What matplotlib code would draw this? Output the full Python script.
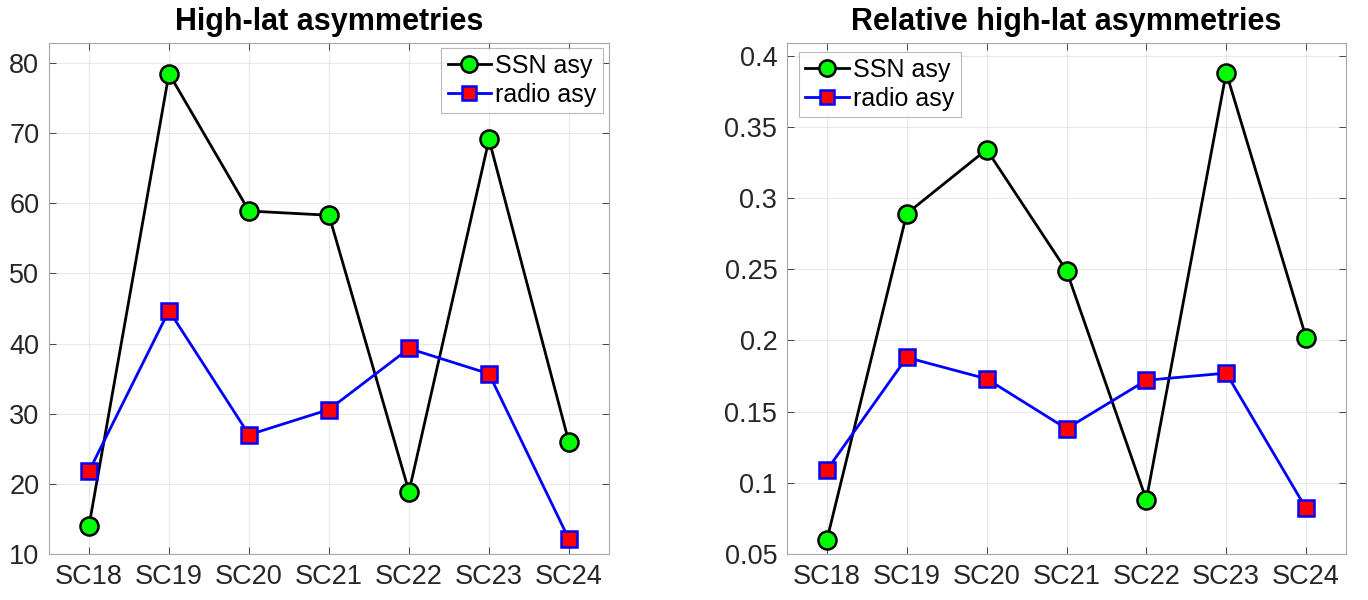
import matplotlib
matplotlib.use("Agg")
import matplotlib.pyplot as plt

plt.rcParams['font.family'] = ['Liberation Sans', 'DejaVu Sans']

cycles = ["SC18", "SC19", "SC20", "SC21", "SC22", "SC23", "SC24"]
ssn_abs = [14.0, 78.5, 58.9, 58.3, 18.9, 69.1, 25.9]
radio_abs = [21.8, 44.7, 27.0, 30.6, 39.3, 35.7, 12.1]
ssn_rel = [0.060, 0.289, 0.334, 0.249, 0.088, 0.388, 0.202]
radio_rel = [0.109, 0.188, 0.173, 0.138, 0.172, 0.177, 0.082]

W, H = 1368, 600
fig = plt.figure(figsize=(W / 100, H / 100), dpi=100)
x = list(range(1, len(cycles) + 1))


def style(ax):
    for s in ax.spines.values():
        s.set_color('#a6a6a6')
        s.set_linewidth(0.8)
    ax.grid(True, color='#e8e8e8', linewidth=0.8)
    ax.set_axisbelow(True)
    ax.tick_params(direction='in', length=5, width=0.7, color='#444444',
                   labelsize=19.5, labelcolor='#262626', top=True, right=True, pad=7)
    ax.set_xticks(x)
    ax.set_xticklabels(cycles)
    ax.set_xlim(0.5, 7.5)


def draw(ax, ssn, radio, ylim, yticks, yticklabels, title, legloc, anchor):
    ax.plot(x, ssn, '-o', color='black', linewidth=2, markersize=13,
            markerfacecolor='#00ff00', markeredgecolor='black', markeredgewidth=1.8,
            label='SSN asy', zorder=3)
    ax.plot(x, radio, '-s', color='#0000ff', linewidth=2, markersize=11,
            markerfacecolor='#ff0000', markeredgecolor='#0000ff', markeredgewidth=1.8,
            label='radio asy', zorder=3)
    style(ax)
    ax.set_ylim(*ylim)
    ax.set_yticks(yticks)
    ax.set_yticklabels(yticklabels)
    ax.set_title(title, fontsize=22, fontweight='bold', pad=9)
    leg = ax.legend(loc=legloc, bbox_to_anchor=anchor, fontsize=18, frameon=True,
                    fancybox=False, edgecolor='#a6a6a6', handlelength=1.75,
                    handletextpad=0.16, borderpad=0.25, labelspacing=0.2,
                    borderaxespad=0.0, markerscale=0.9)
    leg.get_frame().set_linewidth(0.8)


ax1 = fig.add_axes([49 / W, (H - 554) / H, 560 / W, 511.3 / H])
draw(ax1, ssn_abs, radio_abs, (10, 82.9), [10, 20, 30, 40, 50, 60, 70, 80],
     ['10', '20', '30', '40', '50', '60', '70', '80'],
     'High-lat asymmetries', 'upper right', (0.989, 0.99))

ax2 = fig.add_axes([787 / W, (H - 554) / H, 559 / W, 511.3 / H])
rel_ticks = [0.05, 0.1, 0.15, 0.2, 0.25, 0.3, 0.35, 0.4]
draw(ax2, ssn_rel, radio_rel, (0.05, 0.409), rel_ticks,
     ['0.05', '0.1', '0.15', '0.2', '0.25', '0.3', '0.35', '0.4'],
     'Relative high-lat asymmetries', 'upper left', (0.0215, 0.982))

fig.savefig('out.png', dpi=100)
